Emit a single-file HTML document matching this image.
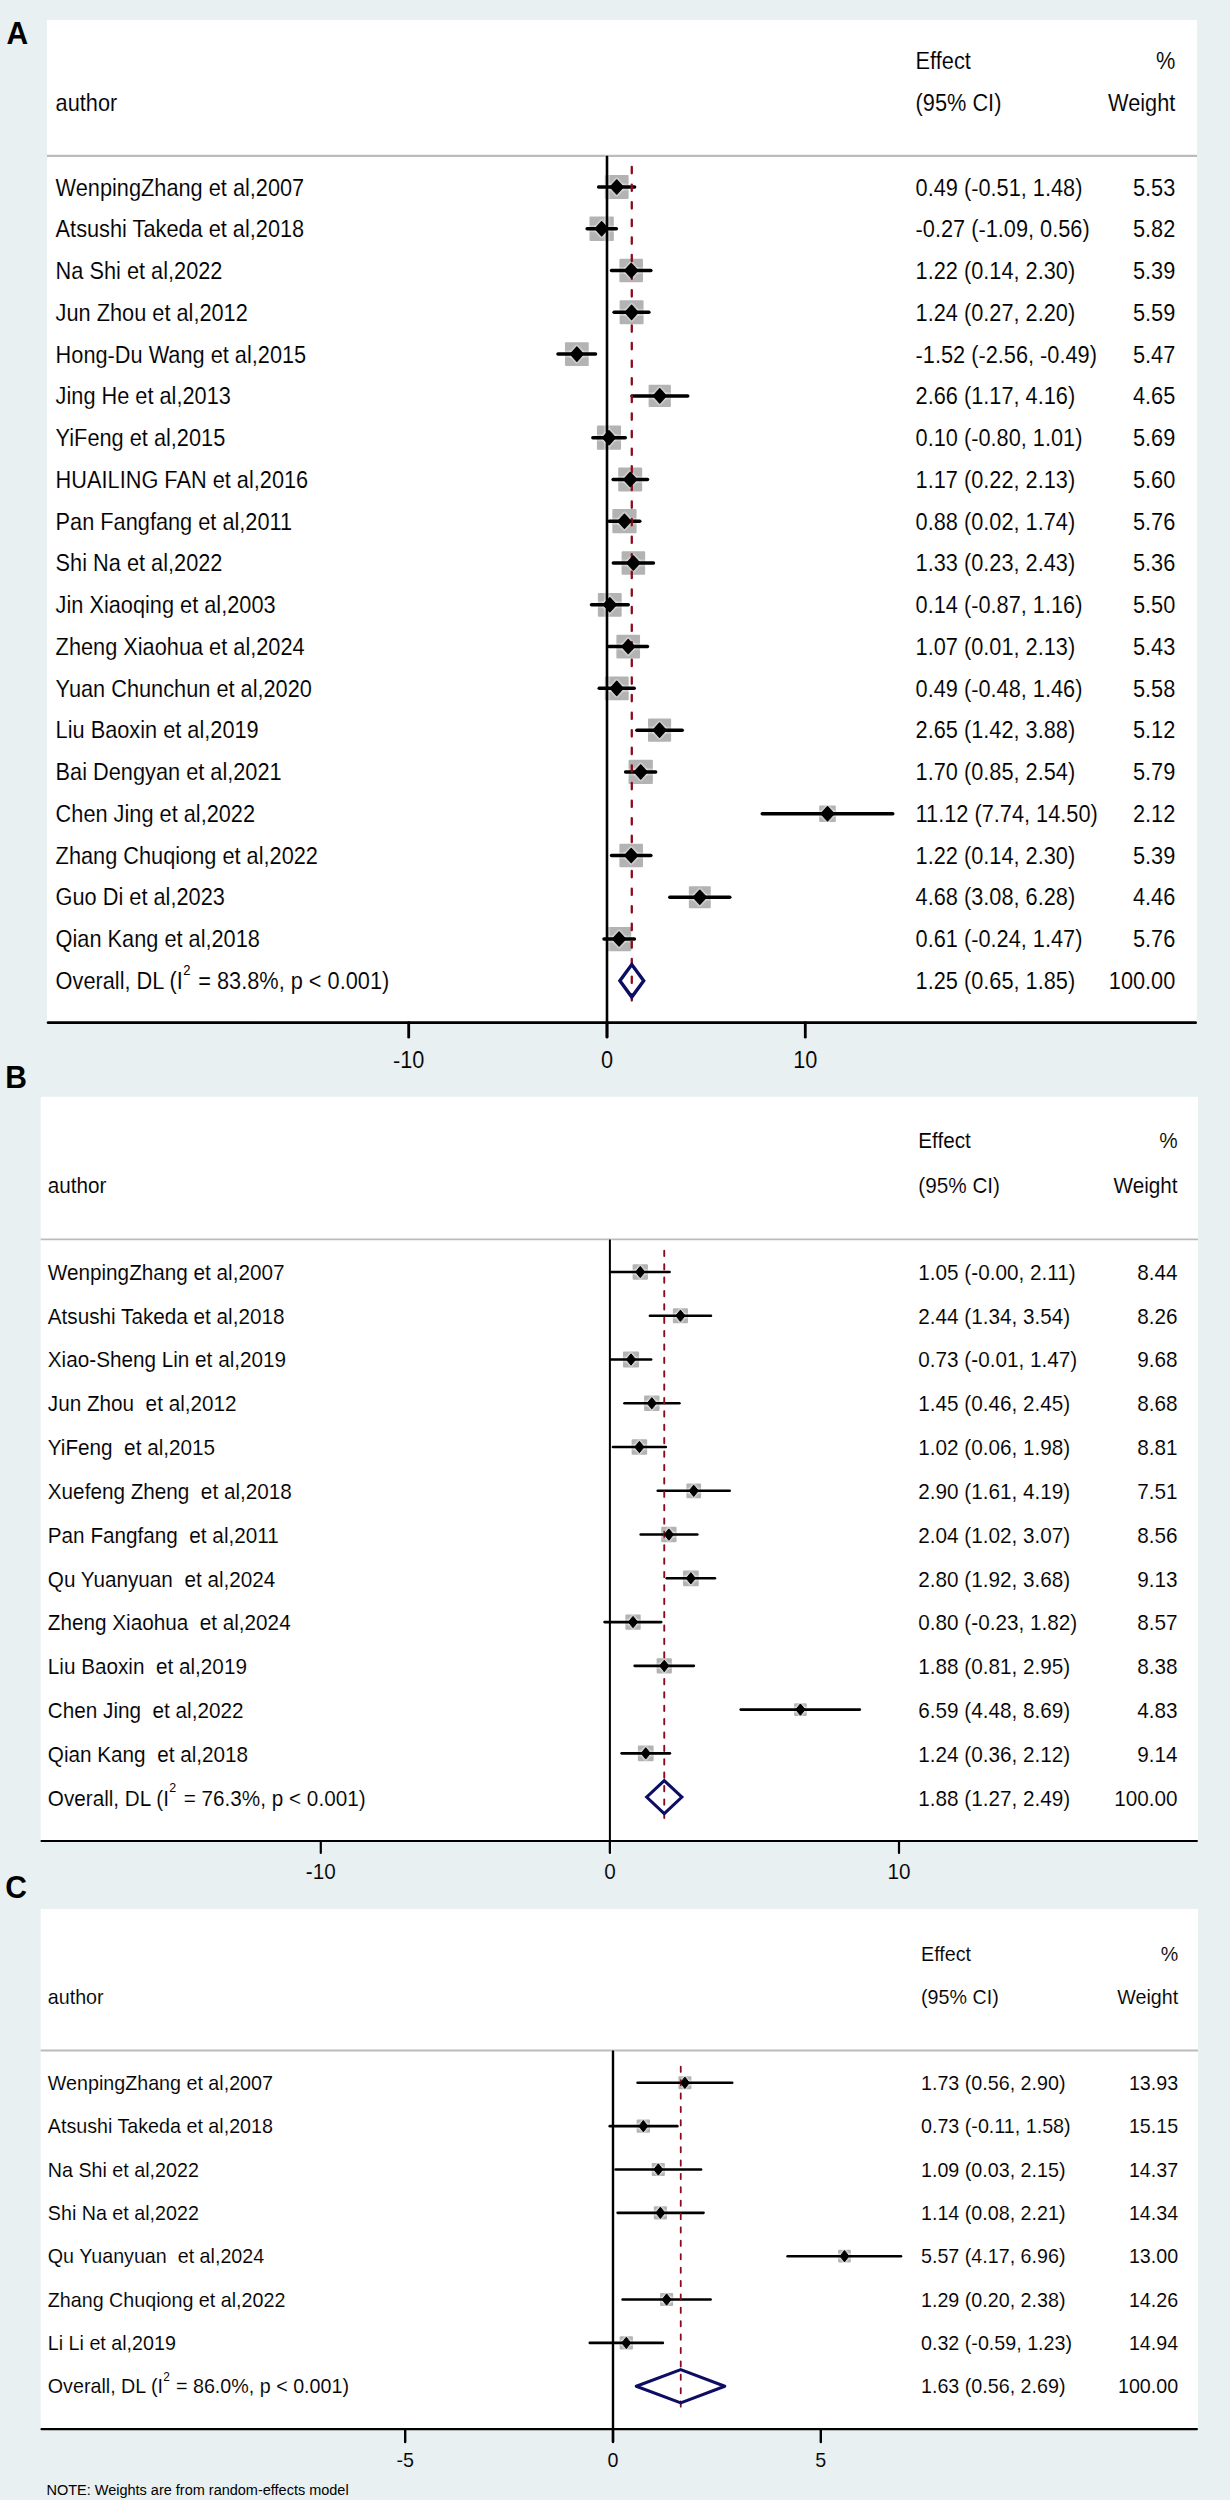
<!DOCTYPE html>
<html><head><meta charset="utf-8"><style>
html,body{margin:0;padding:0;background:#e8f0f2;}
body{width:1230px;height:2500px;overflow:hidden;font-family:"Liberation Sans",sans-serif;}
svg{display:block;}
text{white-space:pre;}
</style></head><body>
<svg width="1230" height="2500" viewBox="0 0 1230 2500" font-family="Liberation Sans, sans-serif" xml:space="preserve">
<rect width="1230" height="2500" fill="#e8f0f2"/>
<rect x="47" y="20" width="1150" height="1002.7" fill="#fff"/>
<line x1="47" y1="155.8" x2="1197" y2="155.8" stroke="#bbbbbb" stroke-width="2.2"/>
<g font-size="21.75" stroke="#fff" stroke-width="0.1">
<text transform="translate(915.6 69.3) scale(1 1.07)">Effect</text>
<text transform="translate(1175.3 69.3) scale(1 1.07)" text-anchor="end">%</text>
<text transform="translate(55.6 111.3) scale(1 1.07)">author</text>
<text transform="translate(915.6 111.3) scale(1 1.07)">(95% CI)</text>
<text transform="translate(1175.3 111.3) scale(1 1.07)" text-anchor="end">Weight</text>
<text transform="translate(55.6 195.5) scale(1 1.07)">WenpingZhang et al,2007</text>
<text transform="translate(915.6 195.5) scale(1 1.07)">0.49 (-0.51, 1.48)</text>
<text transform="translate(1175.3 195.5) scale(1 1.07)" text-anchor="end">5.53</text>
<text transform="translate(55.6 237.25) scale(1 1.07)">Atsushi Takeda et al,2018</text>
<text transform="translate(915.6 237.25) scale(1 1.07)">-0.27 (-1.09, 0.56)</text>
<text transform="translate(1175.3 237.25) scale(1 1.07)" text-anchor="end">5.82</text>
<text transform="translate(55.6 279) scale(1 1.07)">Na Shi et al,2022</text>
<text transform="translate(915.6 279) scale(1 1.07)">1.22 (0.14, 2.30)</text>
<text transform="translate(1175.3 279) scale(1 1.07)" text-anchor="end">5.39</text>
<text transform="translate(55.6 320.75) scale(1 1.07)">Jun Zhou et al,2012</text>
<text transform="translate(915.6 320.75) scale(1 1.07)">1.24 (0.27, 2.20)</text>
<text transform="translate(1175.3 320.75) scale(1 1.07)" text-anchor="end">5.59</text>
<text transform="translate(55.6 362.5) scale(1 1.07)">Hong-Du Wang et al,2015</text>
<text transform="translate(915.6 362.5) scale(1 1.07)">-1.52 (-2.56, -0.49)</text>
<text transform="translate(1175.3 362.5) scale(1 1.07)" text-anchor="end">5.47</text>
<text transform="translate(55.6 404.25) scale(1 1.07)">Jing He et al,2013</text>
<text transform="translate(915.6 404.25) scale(1 1.07)">2.66 (1.17, 4.16)</text>
<text transform="translate(1175.3 404.25) scale(1 1.07)" text-anchor="end">4.65</text>
<text transform="translate(55.6 446) scale(1 1.07)">YiFeng et al,2015</text>
<text transform="translate(915.6 446) scale(1 1.07)">0.10 (-0.80, 1.01)</text>
<text transform="translate(1175.3 446) scale(1 1.07)" text-anchor="end">5.69</text>
<text transform="translate(55.6 487.75) scale(1 1.07)">HUAILING FAN et al,2016</text>
<text transform="translate(915.6 487.75) scale(1 1.07)">1.17 (0.22, 2.13)</text>
<text transform="translate(1175.3 487.75) scale(1 1.07)" text-anchor="end">5.60</text>
<text transform="translate(55.6 529.5) scale(1 1.07)">Pan Fangfang et al,2011</text>
<text transform="translate(915.6 529.5) scale(1 1.07)">0.88 (0.02, 1.74)</text>
<text transform="translate(1175.3 529.5) scale(1 1.07)" text-anchor="end">5.76</text>
<text transform="translate(55.6 571.25) scale(1 1.07)">Shi Na et al,2022</text>
<text transform="translate(915.6 571.25) scale(1 1.07)">1.33 (0.23, 2.43)</text>
<text transform="translate(1175.3 571.25) scale(1 1.07)" text-anchor="end">5.36</text>
<text transform="translate(55.6 613) scale(1 1.07)">Jin Xiaoqing et al,2003</text>
<text transform="translate(915.6 613) scale(1 1.07)">0.14 (-0.87, 1.16)</text>
<text transform="translate(1175.3 613) scale(1 1.07)" text-anchor="end">5.50</text>
<text transform="translate(55.6 654.75) scale(1 1.07)">Zheng Xiaohua et al,2024</text>
<text transform="translate(915.6 654.75) scale(1 1.07)">1.07 (0.01, 2.13)</text>
<text transform="translate(1175.3 654.75) scale(1 1.07)" text-anchor="end">5.43</text>
<text transform="translate(55.6 696.5) scale(1 1.07)">Yuan Chunchun et al,2020</text>
<text transform="translate(915.6 696.5) scale(1 1.07)">0.49 (-0.48, 1.46)</text>
<text transform="translate(1175.3 696.5) scale(1 1.07)" text-anchor="end">5.58</text>
<text transform="translate(55.6 738.25) scale(1 1.07)">Liu Baoxin et al,2019</text>
<text transform="translate(915.6 738.25) scale(1 1.07)">2.65 (1.42, 3.88)</text>
<text transform="translate(1175.3 738.25) scale(1 1.07)" text-anchor="end">5.12</text>
<text transform="translate(55.6 780) scale(1 1.07)">Bai Dengyan et al,2021</text>
<text transform="translate(915.6 780) scale(1 1.07)">1.70 (0.85, 2.54)</text>
<text transform="translate(1175.3 780) scale(1 1.07)" text-anchor="end">5.79</text>
<text transform="translate(55.6 821.75) scale(1 1.07)">Chen Jing et al,2022</text>
<text transform="translate(915.6 821.75) scale(1 1.07)">11.12 (7.74, 14.50)</text>
<text transform="translate(1175.3 821.75) scale(1 1.07)" text-anchor="end">2.12</text>
<text transform="translate(55.6 863.5) scale(1 1.07)">Zhang Chuqiong et al,2022</text>
<text transform="translate(915.6 863.5) scale(1 1.07)">1.22 (0.14, 2.30)</text>
<text transform="translate(1175.3 863.5) scale(1 1.07)" text-anchor="end">5.39</text>
<text transform="translate(55.6 905.25) scale(1 1.07)">Guo Di et al,2023</text>
<text transform="translate(915.6 905.25) scale(1 1.07)">4.68 (3.08, 6.28)</text>
<text transform="translate(1175.3 905.25) scale(1 1.07)" text-anchor="end">4.46</text>
<text transform="translate(55.6 947) scale(1 1.07)">Qian Kang et al,2018</text>
<text transform="translate(915.6 947) scale(1 1.07)">0.61 (-0.24, 1.47)</text>
<text transform="translate(1175.3 947) scale(1 1.07)" text-anchor="end">5.76</text>
<text transform="translate(55.6 988.75) scale(1 1.07)">Overall, DL (I<tspan font-size="13.05" stroke-width="0" dx="0.3" dy="-13.27">2</tspan><tspan dx="1.8" dy="13.27"> = 83.8%, p &lt; 0.001)</tspan></text>
<text transform="translate(915.6 988.75) scale(1 1.07)">1.25 (0.65, 1.85)</text>
<text transform="translate(1175.3 988.75) scale(1 1.07)" text-anchor="end">100.00</text>
</g>
<g font-size="21.75" stroke="#e8f0f2" stroke-width="0.1">
<text transform="translate(408.7 1067.7) scale(1 1.07)" text-anchor="middle">-10</text>
<text transform="translate(607 1067.7) scale(1 1.07)" text-anchor="middle">0</text>
<text transform="translate(805.3 1067.7) scale(1 1.07)" text-anchor="middle">10</text>
</g>
<rect x="604.79" y="175.08" width="23.85" height="23.85" rx="1" fill="#b3b3b3"/>
<rect x="589.48" y="216.61" width="24.34" height="24.34" rx="1" fill="#b3b3b3"/>
<rect x="619.39" y="258.76" width="23.61" height="23.61" rx="1" fill="#b3b3b3"/>
<rect x="619.61" y="300.36" width="23.95" height="23.95" rx="1" fill="#b3b3b3"/>
<rect x="564.99" y="342.25" width="23.74" height="23.74" rx="1" fill="#b3b3b3"/>
<rect x="648.61" y="384.77" width="22.27" height="22.27" rx="1" fill="#b3b3b3"/>
<rect x="596.92" y="425.62" width="24.12" height="24.12" rx="1" fill="#b3b3b3"/>
<rect x="618.22" y="467.48" width="23.97" height="23.97" rx="1" fill="#b3b3b3"/>
<rect x="612.33" y="509.12" width="24.24" height="24.24" rx="1" fill="#b3b3b3"/>
<rect x="621.6" y="551.24" width="23.55" height="23.55" rx="1" fill="#b3b3b3"/>
<rect x="597.88" y="592.9" width="23.8" height="23.8" rx="1" fill="#b3b3b3"/>
<rect x="616.38" y="634.74" width="23.67" height="23.67" rx="1" fill="#b3b3b3"/>
<rect x="604.75" y="676.39" width="23.93" height="23.93" rx="1" fill="#b3b3b3"/>
<rect x="647.99" y="718.58" width="23.13" height="23.13" rx="1" fill="#b3b3b3"/>
<rect x="628.57" y="759.77" width="24.29" height="24.29" rx="1" fill="#b3b3b3"/>
<rect x="819.21" y="805.4" width="16.59" height="16.59" rx="1" fill="#b3b3b3"/>
<rect x="619.39" y="843.68" width="23.61" height="23.61" rx="1" fill="#b3b3b3"/>
<rect x="688.85" y="886.31" width="21.91" height="21.91" rx="1" fill="#b3b3b3"/>
<rect x="606.98" y="926.92" width="24.24" height="24.24" rx="1" fill="#b3b3b3"/>
<g stroke="#fff" stroke-opacity="0.3" fill="none" stroke-linejoin="round" stroke-linecap="round">
<path d="M607 157.8V1037.2" stroke-width="6.2"/>
<path d="M604.79 187H628.64" stroke-width="7.1"/>
<path d="M616.72 179.9L623.22 187L616.72 194.1L610.22 187Z" stroke-width="4.9"/>
<path d="M589.48 228.78H613.82" stroke-width="7.1"/>
<path d="M601.65 221.68L608.15 228.78L601.65 235.88L595.15 228.78Z" stroke-width="4.9"/>
<path d="M619.39 270.56H643" stroke-width="7.1"/>
<path d="M631.19 263.46L637.69 270.56L631.19 277.66L624.69 270.56Z" stroke-width="4.9"/>
<path d="M619.61 312.34H643.56" stroke-width="7.1"/>
<path d="M631.59 305.24L638.09 312.34L631.59 319.44L625.09 312.34Z" stroke-width="4.9"/>
<path d="M564.99 354.12H588.73" stroke-width="7.1"/>
<path d="M576.86 347.02L583.36 354.12L576.86 361.22L570.36 354.12Z" stroke-width="4.9"/>
<path d="M648.61 395.9H670.88" stroke-width="7.1"/>
<path d="M659.75 388.8L666.25 395.9L659.75 403L653.25 395.9Z" stroke-width="4.9"/>
<path d="M596.92 437.68H621.04" stroke-width="7.1"/>
<path d="M608.98 430.58L615.48 437.68L608.98 444.78L602.48 437.68Z" stroke-width="4.9"/>
<path d="M618.22 479.46H642.19" stroke-width="7.1"/>
<path d="M630.2 472.36L636.7 479.46L630.2 486.56L623.7 479.46Z" stroke-width="4.9"/>
<path d="M612.33 521.24H636.57" stroke-width="7.1"/>
<path d="M624.45 514.14L630.95 521.24L624.45 528.34L617.95 521.24Z" stroke-width="4.9"/>
<path d="M621.6 563.02H645.15" stroke-width="7.1"/>
<path d="M633.37 555.92L639.87 563.02L633.37 570.12L626.87 563.02Z" stroke-width="4.9"/>
<path d="M597.88 604.8H621.67" stroke-width="7.1"/>
<path d="M609.78 597.7L616.28 604.8L609.78 611.9L603.28 604.8Z" stroke-width="4.9"/>
<path d="M616.38 646.58H640.06" stroke-width="7.1"/>
<path d="M628.22 639.48L634.72 646.58L628.22 653.68L621.72 646.58Z" stroke-width="4.9"/>
<path d="M604.75 688.36H628.68" stroke-width="7.1"/>
<path d="M616.72 681.26L623.22 688.36L616.72 695.46L610.22 688.36Z" stroke-width="4.9"/>
<path d="M647.99 730.14H671.11" stroke-width="7.1"/>
<path d="M659.55 723.04L666.05 730.14L659.55 737.24L653.05 730.14Z" stroke-width="4.9"/>
<path d="M628.57 771.92H652.86" stroke-width="7.1"/>
<path d="M640.71 764.82L647.21 771.92L640.71 779.02L634.21 771.92Z" stroke-width="4.9"/>
<path d="M819.21 813.7H835.81" stroke-width="7.1"/>
<path d="M827.51 806.6L834.01 813.7L827.51 820.8L821.01 813.7Z" stroke-width="4.9"/>
<path d="M619.39 855.48H643" stroke-width="7.1"/>
<path d="M631.19 848.38L637.69 855.48L631.19 862.58L624.69 855.48Z" stroke-width="4.9"/>
<path d="M688.85 897.26H710.76" stroke-width="7.1"/>
<path d="M699.8 890.16L706.3 897.26L699.8 904.36L693.3 897.26Z" stroke-width="4.9"/>
<path d="M606.98 939.04H631.22" stroke-width="7.1"/>
<path d="M619.1 931.94L625.6 939.04L619.1 946.14L612.6 939.04Z" stroke-width="4.9"/>
</g>
<line x1="607" y1="155.8" x2="607" y2="1037.2" stroke="#000" stroke-width="2.6"/>
<line x1="598.64" y1="187" x2="634.6" y2="187" stroke="#000" stroke-width="3.5" stroke-linecap="round"/>
<line x1="587.14" y1="228.78" x2="616.35" y2="228.78" stroke="#000" stroke-width="3.5" stroke-linecap="round"/>
<line x1="611.53" y1="270.56" x2="650.86" y2="270.56" stroke="#000" stroke-width="3.5" stroke-linecap="round"/>
<line x1="614.1" y1="312.34" x2="648.88" y2="312.34" stroke="#000" stroke-width="3.5" stroke-linecap="round"/>
<line x1="557.99" y1="354.12" x2="595.53" y2="354.12" stroke="#000" stroke-width="3.5" stroke-linecap="round"/>
<line x1="631.95" y1="395.9" x2="687.74" y2="395.9" stroke="#000" stroke-width="3.5" stroke-linecap="round"/>
<line x1="592.89" y1="437.68" x2="625.28" y2="437.68" stroke="#000" stroke-width="3.5" stroke-linecap="round"/>
<line x1="613.11" y1="479.46" x2="647.49" y2="479.46" stroke="#000" stroke-width="3.5" stroke-linecap="round"/>
<line x1="609.15" y1="521.24" x2="639.75" y2="521.24" stroke="#000" stroke-width="3.5" stroke-linecap="round"/>
<line x1="613.31" y1="563.02" x2="653.44" y2="563.02" stroke="#000" stroke-width="3.5" stroke-linecap="round"/>
<line x1="591.5" y1="604.8" x2="628.25" y2="604.8" stroke="#000" stroke-width="3.5" stroke-linecap="round"/>
<line x1="608.95" y1="646.58" x2="647.49" y2="646.58" stroke="#000" stroke-width="3.5" stroke-linecap="round"/>
<line x1="599.23" y1="688.36" x2="634.2" y2="688.36" stroke="#000" stroke-width="3.5" stroke-linecap="round"/>
<line x1="636.91" y1="730.14" x2="682.19" y2="730.14" stroke="#000" stroke-width="3.5" stroke-linecap="round"/>
<line x1="625.61" y1="771.92" x2="655.62" y2="771.92" stroke="#000" stroke-width="3.5" stroke-linecap="round"/>
<line x1="762.23" y1="813.7" x2="892.78" y2="813.7" stroke="#000" stroke-width="3.5" stroke-linecap="round"/>
<line x1="611.53" y1="855.48" x2="650.86" y2="855.48" stroke="#000" stroke-width="3.5" stroke-linecap="round"/>
<line x1="669.83" y1="897.26" x2="729.78" y2="897.26" stroke="#000" stroke-width="3.5" stroke-linecap="round"/>
<line x1="603.99" y1="939.04" x2="634.4" y2="939.04" stroke="#000" stroke-width="3.5" stroke-linecap="round"/>
<line x1="631.79" y1="166.95" x2="631.79" y2="1001.6" stroke="#8a0c1c" stroke-width="2.3" stroke-dasharray="6.4 11.2" stroke-linecap="round"/>
<path d="M616.72 179.9L623.22 187L616.72 194.1L610.22 187Z" stroke="#000" stroke-width="1.3" stroke-linejoin="round"/>
<path d="M601.65 221.68L608.15 228.78L601.65 235.88L595.15 228.78Z" stroke="#000" stroke-width="1.3" stroke-linejoin="round"/>
<path d="M631.19 263.46L637.69 270.56L631.19 277.66L624.69 270.56Z" stroke="#000" stroke-width="1.3" stroke-linejoin="round"/>
<path d="M631.59 305.24L638.09 312.34L631.59 319.44L625.09 312.34Z" stroke="#000" stroke-width="1.3" stroke-linejoin="round"/>
<path d="M576.86 347.02L583.36 354.12L576.86 361.22L570.36 354.12Z" stroke="#000" stroke-width="1.3" stroke-linejoin="round"/>
<path d="M659.75 388.8L666.25 395.9L659.75 403L653.25 395.9Z" stroke="#000" stroke-width="1.3" stroke-linejoin="round"/>
<path d="M608.98 430.58L615.48 437.68L608.98 444.78L602.48 437.68Z" stroke="#000" stroke-width="1.3" stroke-linejoin="round"/>
<path d="M630.2 472.36L636.7 479.46L630.2 486.56L623.7 479.46Z" stroke="#000" stroke-width="1.3" stroke-linejoin="round"/>
<path d="M624.45 514.14L630.95 521.24L624.45 528.34L617.95 521.24Z" stroke="#000" stroke-width="1.3" stroke-linejoin="round"/>
<path d="M633.37 555.92L639.87 563.02L633.37 570.12L626.87 563.02Z" stroke="#000" stroke-width="1.3" stroke-linejoin="round"/>
<path d="M609.78 597.7L616.28 604.8L609.78 611.9L603.28 604.8Z" stroke="#000" stroke-width="1.3" stroke-linejoin="round"/>
<path d="M628.22 639.48L634.72 646.58L628.22 653.68L621.72 646.58Z" stroke="#000" stroke-width="1.3" stroke-linejoin="round"/>
<path d="M616.72 681.26L623.22 688.36L616.72 695.46L610.22 688.36Z" stroke="#000" stroke-width="1.3" stroke-linejoin="round"/>
<path d="M659.55 723.04L666.05 730.14L659.55 737.24L653.05 730.14Z" stroke="#000" stroke-width="1.3" stroke-linejoin="round"/>
<path d="M640.71 764.82L647.21 771.92L640.71 779.02L634.21 771.92Z" stroke="#000" stroke-width="1.3" stroke-linejoin="round"/>
<path d="M827.51 806.6L834.01 813.7L827.51 820.8L821.01 813.7Z" stroke="#000" stroke-width="1.3" stroke-linejoin="round"/>
<path d="M631.19 848.38L637.69 855.48L631.19 862.58L624.69 855.48Z" stroke="#000" stroke-width="1.3" stroke-linejoin="round"/>
<path d="M699.8 890.16L706.3 897.26L699.8 904.36L693.3 897.26Z" stroke="#000" stroke-width="1.3" stroke-linejoin="round"/>
<path d="M619.1 931.94L625.6 939.04L619.1 946.14L612.6 939.04Z" stroke="#000" stroke-width="1.3" stroke-linejoin="round"/>
<path d="M619.89 980.82L631.79 964.52L643.69 980.82L631.79 997.12Z" fill="none" stroke="#0d0d63" stroke-width="3.4" stroke-linejoin="miter"/>
<line x1="48.1" y1="1022.7" x2="1195.6" y2="1022.7" stroke="#000" stroke-width="2.8" stroke-linecap="round"/>
<line x1="408.7" y1="1022.7" x2="408.7" y2="1037.2" stroke="#000" stroke-width="2.8" stroke-linecap="round"/>
<line x1="607" y1="1022.7" x2="607" y2="1037.2" stroke="#000" stroke-width="2.8" stroke-linecap="round"/>
<line x1="805.3" y1="1022.7" x2="805.3" y2="1037.2" stroke="#000" stroke-width="2.8" stroke-linecap="round"/>
<rect x="40.7" y="1096.8" width="1157.3" height="744.2" fill="#fff"/>
<line x1="40.7" y1="1239.4" x2="1198" y2="1239.4" stroke="#bbbbbb" stroke-width="1.8"/>
<g font-size="20.72" stroke="#fff" stroke-width="0.1">
<text transform="translate(918.3 1148.4) scale(1 1.07)">Effect</text>
<text transform="translate(1177.6 1148.4) scale(1 1.07)" text-anchor="end">%</text>
<text transform="translate(47.8 1192.8) scale(1 1.07)">author</text>
<text transform="translate(918.3 1192.8) scale(1 1.07)">(95% CI)</text>
<text transform="translate(1177.6 1192.8) scale(1 1.07)" text-anchor="end">Weight</text>
<text transform="translate(47.8 1279.8) scale(1 1.07)">WenpingZhang et al,2007</text>
<text transform="translate(918.3 1279.8) scale(1 1.07)">1.05 (-0.00, 2.11)</text>
<text transform="translate(1177.6 1279.8) scale(1 1.07)" text-anchor="end">8.44</text>
<text transform="translate(47.8 1323.63) scale(1 1.07)">Atsushi Takeda et al,2018</text>
<text transform="translate(918.3 1323.63) scale(1 1.07)">2.44 (1.34, 3.54)</text>
<text transform="translate(1177.6 1323.63) scale(1 1.07)" text-anchor="end">8.26</text>
<text transform="translate(47.8 1367.46) scale(1 1.07)">Xiao-Sheng Lin et al,2019</text>
<text transform="translate(918.3 1367.46) scale(1 1.07)">0.73 (-0.01, 1.47)</text>
<text transform="translate(1177.6 1367.46) scale(1 1.07)" text-anchor="end">9.68</text>
<text transform="translate(47.8 1411.29) scale(1 1.07)">Jun Zhou  et al,2012</text>
<text transform="translate(918.3 1411.29) scale(1 1.07)">1.45 (0.46, 2.45)</text>
<text transform="translate(1177.6 1411.29) scale(1 1.07)" text-anchor="end">8.68</text>
<text transform="translate(47.8 1455.12) scale(1 1.07)">YiFeng  et al,2015</text>
<text transform="translate(918.3 1455.12) scale(1 1.07)">1.02 (0.06, 1.98)</text>
<text transform="translate(1177.6 1455.12) scale(1 1.07)" text-anchor="end">8.81</text>
<text transform="translate(47.8 1498.95) scale(1 1.07)">Xuefeng Zheng  et al,2018</text>
<text transform="translate(918.3 1498.95) scale(1 1.07)">2.90 (1.61, 4.19)</text>
<text transform="translate(1177.6 1498.95) scale(1 1.07)" text-anchor="end">7.51</text>
<text transform="translate(47.8 1542.78) scale(1 1.07)">Pan Fangfang  et al,2011</text>
<text transform="translate(918.3 1542.78) scale(1 1.07)">2.04 (1.02, 3.07)</text>
<text transform="translate(1177.6 1542.78) scale(1 1.07)" text-anchor="end">8.56</text>
<text transform="translate(47.8 1586.61) scale(1 1.07)">Qu Yuanyuan  et al,2024</text>
<text transform="translate(918.3 1586.61) scale(1 1.07)">2.80 (1.92, 3.68)</text>
<text transform="translate(1177.6 1586.61) scale(1 1.07)" text-anchor="end">9.13</text>
<text transform="translate(47.8 1630.44) scale(1 1.07)">Zheng Xiaohua  et al,2024</text>
<text transform="translate(918.3 1630.44) scale(1 1.07)">0.80 (-0.23, 1.82)</text>
<text transform="translate(1177.6 1630.44) scale(1 1.07)" text-anchor="end">8.57</text>
<text transform="translate(47.8 1674.27) scale(1 1.07)">Liu Baoxin  et al,2019</text>
<text transform="translate(918.3 1674.27) scale(1 1.07)">1.88 (0.81, 2.95)</text>
<text transform="translate(1177.6 1674.27) scale(1 1.07)" text-anchor="end">8.38</text>
<text transform="translate(47.8 1718.1) scale(1 1.07)">Chen Jing  et al,2022</text>
<text transform="translate(918.3 1718.1) scale(1 1.07)">6.59 (4.48, 8.69)</text>
<text transform="translate(1177.6 1718.1) scale(1 1.07)" text-anchor="end">4.83</text>
<text transform="translate(47.8 1761.93) scale(1 1.07)">Qian Kang  et al,2018</text>
<text transform="translate(918.3 1761.93) scale(1 1.07)">1.24 (0.36, 2.12)</text>
<text transform="translate(1177.6 1761.93) scale(1 1.07)" text-anchor="end">9.14</text>
<text transform="translate(47.8 1805.76) scale(1 1.07)">Overall, DL (I<tspan font-size="12.43" stroke-width="0" dx="0.3" dy="-12.85">2</tspan><tspan dx="1.8" dy="12.85"> = 76.3%, p &lt; 0.001)</tspan></text>
<text transform="translate(918.3 1805.76) scale(1 1.07)">1.88 (1.27, 2.49)</text>
<text transform="translate(1177.6 1805.76) scale(1 1.07)" text-anchor="end">100.00</text>
</g>
<g font-size="20.72" stroke="#e8f0f2" stroke-width="0.1">
<text transform="translate(320.8 1879.2) scale(1 1.07)" text-anchor="middle">-10</text>
<text transform="translate(609.9 1879.2) scale(1 1.07)" text-anchor="middle">0</text>
<text transform="translate(899 1879.2) scale(1 1.07)" text-anchor="middle">10</text>
</g>
<rect x="632.61" y="1264.35" width="15.3" height="15.3" rx="1" fill="#b3b3b3"/>
<rect x="672.85" y="1308.17" width="15.18" height="15.18" rx="1" fill="#b3b3b3"/>
<rect x="622.96" y="1351.48" width="16.09" height="16.09" rx="1" fill="#b3b3b3"/>
<rect x="644.09" y="1395.55" width="15.45" height="15.45" rx="1" fill="#b3b3b3"/>
<rect x="631.62" y="1439.27" width="15.54" height="15.54" rx="1" fill="#b3b3b3"/>
<rect x="686.4" y="1483.47" width="14.67" height="14.67" rx="1" fill="#b3b3b3"/>
<rect x="661.19" y="1526.87" width="15.38" height="15.38" rx="1" fill="#b3b3b3"/>
<rect x="682.98" y="1570.45" width="15.74" height="15.74" rx="1" fill="#b3b3b3"/>
<rect x="625.34" y="1614.39" width="15.38" height="15.38" rx="1" fill="#b3b3b3"/>
<rect x="656.62" y="1658.21" width="15.26" height="15.26" rx="1" fill="#b3b3b3"/>
<rect x="794.12" y="1703.3" width="12.6" height="12.6" rx="1" fill="#b3b3b3"/>
<rect x="637.87" y="1745.49" width="15.75" height="15.75" rx="1" fill="#b3b3b3"/>
<g stroke="#fff" stroke-opacity="0.3" fill="none" stroke-linejoin="round" stroke-linecap="round">
<path d="M609.9 1241.4V1853" stroke-width="5.6"/>
<path d="M632.61 1272H647.9" stroke-width="6.2"/>
<path d="M640.26 1266.4L644.86 1272L640.26 1277.6L635.66 1272Z" stroke-width="4.6"/>
<path d="M672.85 1315.76H688.03" stroke-width="6.2"/>
<path d="M680.44 1310.16L685.04 1315.76L680.44 1321.36L675.84 1315.76Z" stroke-width="4.6"/>
<path d="M622.96 1359.52H639.05" stroke-width="6.2"/>
<path d="M631 1353.92L635.6 1359.52L631 1365.12L626.4 1359.52Z" stroke-width="4.6"/>
<path d="M644.09 1403.28H659.55" stroke-width="6.2"/>
<path d="M651.82 1397.68L656.42 1403.28L651.82 1408.88L647.22 1403.28Z" stroke-width="4.6"/>
<path d="M631.62 1447.04H647.16" stroke-width="6.2"/>
<path d="M639.39 1441.44L643.99 1447.04L639.39 1452.64L634.79 1447.04Z" stroke-width="4.6"/>
<path d="M686.4 1490.8H701.07" stroke-width="6.2"/>
<path d="M693.74 1485.2L698.34 1490.8L693.74 1496.4L689.14 1490.8Z" stroke-width="4.6"/>
<path d="M661.19 1534.56H676.56" stroke-width="6.2"/>
<path d="M668.88 1528.96L673.48 1534.56L668.88 1540.16L664.28 1534.56Z" stroke-width="4.6"/>
<path d="M682.98 1578.32H698.72" stroke-width="6.2"/>
<path d="M690.85 1572.72L695.45 1578.32L690.85 1583.92L686.25 1578.32Z" stroke-width="4.6"/>
<path d="M625.34 1622.08H640.72" stroke-width="6.2"/>
<path d="M633.03 1616.48L637.63 1622.08L633.03 1627.68L628.43 1622.08Z" stroke-width="4.6"/>
<path d="M656.62 1665.84H671.88" stroke-width="6.2"/>
<path d="M664.25 1660.24L668.85 1665.84L664.25 1671.44L659.65 1665.84Z" stroke-width="4.6"/>
<path d="M794.12 1709.6H806.71" stroke-width="6.2"/>
<path d="M800.42 1704L805.02 1709.6L800.42 1715.2L795.82 1709.6Z" stroke-width="4.6"/>
<path d="M637.87 1753.36H653.62" stroke-width="6.2"/>
<path d="M645.75 1747.76L650.35 1753.36L645.75 1758.96L641.15 1753.36Z" stroke-width="4.6"/>
</g>
<line x1="609.9" y1="1239.4" x2="609.9" y2="1853" stroke="#000" stroke-width="2.0"/>
<line x1="611.2" y1="1272" x2="669.6" y2="1272" stroke="#000" stroke-width="2.6" stroke-linecap="round"/>
<line x1="649.94" y1="1315.76" x2="710.94" y2="1315.76" stroke="#000" stroke-width="2.6" stroke-linecap="round"/>
<line x1="610.91" y1="1359.52" x2="651.1" y2="1359.52" stroke="#000" stroke-width="2.6" stroke-linecap="round"/>
<line x1="624.5" y1="1403.28" x2="679.43" y2="1403.28" stroke="#000" stroke-width="2.6" stroke-linecap="round"/>
<line x1="612.93" y1="1447.04" x2="665.84" y2="1447.04" stroke="#000" stroke-width="2.6" stroke-linecap="round"/>
<line x1="657.75" y1="1490.8" x2="729.73" y2="1490.8" stroke="#000" stroke-width="2.6" stroke-linecap="round"/>
<line x1="640.69" y1="1534.56" x2="697.35" y2="1534.56" stroke="#000" stroke-width="2.6" stroke-linecap="round"/>
<line x1="666.71" y1="1578.32" x2="714.99" y2="1578.32" stroke="#000" stroke-width="2.6" stroke-linecap="round"/>
<line x1="604.55" y1="1622.08" x2="661.22" y2="1622.08" stroke="#000" stroke-width="2.6" stroke-linecap="round"/>
<line x1="634.62" y1="1665.84" x2="693.88" y2="1665.84" stroke="#000" stroke-width="2.6" stroke-linecap="round"/>
<line x1="740.72" y1="1709.6" x2="859.83" y2="1709.6" stroke="#000" stroke-width="2.6" stroke-linecap="round"/>
<line x1="621.61" y1="1753.36" x2="669.89" y2="1753.36" stroke="#000" stroke-width="2.6" stroke-linecap="round"/>
<line x1="664.25" y1="1250.75" x2="664.25" y2="1819" stroke="#8a0c1c" stroke-width="1.9" stroke-dasharray="5.3 8.08" stroke-linecap="round"/>
<path d="M640.26 1266.4L644.86 1272L640.26 1277.6L635.66 1272Z" stroke="#000" stroke-width="1.0" stroke-linejoin="round"/>
<path d="M680.44 1310.16L685.04 1315.76L680.44 1321.36L675.84 1315.76Z" stroke="#000" stroke-width="1.0" stroke-linejoin="round"/>
<path d="M631 1353.92L635.6 1359.52L631 1365.12L626.4 1359.52Z" stroke="#000" stroke-width="1.0" stroke-linejoin="round"/>
<path d="M651.82 1397.68L656.42 1403.28L651.82 1408.88L647.22 1403.28Z" stroke="#000" stroke-width="1.0" stroke-linejoin="round"/>
<path d="M639.39 1441.44L643.99 1447.04L639.39 1452.64L634.79 1447.04Z" stroke="#000" stroke-width="1.0" stroke-linejoin="round"/>
<path d="M693.74 1485.2L698.34 1490.8L693.74 1496.4L689.14 1490.8Z" stroke="#000" stroke-width="1.0" stroke-linejoin="round"/>
<path d="M668.88 1528.96L673.48 1534.56L668.88 1540.16L664.28 1534.56Z" stroke="#000" stroke-width="1.0" stroke-linejoin="round"/>
<path d="M690.85 1572.72L695.45 1578.32L690.85 1583.92L686.25 1578.32Z" stroke="#000" stroke-width="1.0" stroke-linejoin="round"/>
<path d="M633.03 1616.48L637.63 1622.08L633.03 1627.68L628.43 1622.08Z" stroke="#000" stroke-width="1.0" stroke-linejoin="round"/>
<path d="M664.25 1660.24L668.85 1665.84L664.25 1671.44L659.65 1665.84Z" stroke="#000" stroke-width="1.0" stroke-linejoin="round"/>
<path d="M800.42 1704L805.02 1709.6L800.42 1715.2L795.82 1709.6Z" stroke="#000" stroke-width="1.0" stroke-linejoin="round"/>
<path d="M645.75 1747.76L650.35 1753.36L645.75 1758.96L641.15 1753.36Z" stroke="#000" stroke-width="1.0" stroke-linejoin="round"/>
<path d="M646.62 1797.12L664.25 1780.62L681.89 1797.12L664.25 1813.62Z" fill="none" stroke="#0d0d63" stroke-width="3.0" stroke-linejoin="miter"/>
<line x1="41.5" y1="1841" x2="1196.9" y2="1841" stroke="#000" stroke-width="2.2" stroke-linecap="round"/>
<line x1="320.8" y1="1841" x2="320.8" y2="1853" stroke="#000" stroke-width="2.2" stroke-linecap="round"/>
<line x1="609.9" y1="1841" x2="609.9" y2="1853" stroke="#000" stroke-width="2.2" stroke-linecap="round"/>
<line x1="899" y1="1841" x2="899" y2="1853" stroke="#000" stroke-width="2.2" stroke-linecap="round"/>
<rect x="40.7" y="1909" width="1157.3" height="520.1" fill="#fff"/>
<line x1="40.7" y1="2050.5" x2="1198" y2="2050.5" stroke="#bbbbbb" stroke-width="1.8"/>
<g font-size="19.7" stroke="#fff" stroke-width="0.1">
<text transform="translate(921 1960.8) scale(1 1.07)">Effect</text>
<text transform="translate(1178.2 1960.8) scale(1 1.07)" text-anchor="end">%</text>
<text transform="translate(47.8 2004) scale(1 1.07)">author</text>
<text transform="translate(921 2004) scale(1 1.07)">(95% CI)</text>
<text transform="translate(1178.2 2004) scale(1 1.07)" text-anchor="end">Weight</text>
<text transform="translate(47.8 2090.1) scale(1 1.07)">WenpingZhang et al,2007</text>
<text transform="translate(921 2090.1) scale(1 1.07)">1.73 (0.56, 2.90)</text>
<text transform="translate(1178.2 2090.1) scale(1 1.07)" text-anchor="end">13.93</text>
<text transform="translate(47.8 2133.4) scale(1 1.07)">Atsushi Takeda et al,2018</text>
<text transform="translate(921 2133.4) scale(1 1.07)">0.73 (-0.11, 1.58)</text>
<text transform="translate(1178.2 2133.4) scale(1 1.07)" text-anchor="end">15.15</text>
<text transform="translate(47.8 2176.7) scale(1 1.07)">Na Shi et al,2022</text>
<text transform="translate(921 2176.7) scale(1 1.07)">1.09 (0.03, 2.15)</text>
<text transform="translate(1178.2 2176.7) scale(1 1.07)" text-anchor="end">14.37</text>
<text transform="translate(47.8 2220) scale(1 1.07)">Shi Na et al,2022</text>
<text transform="translate(921 2220) scale(1 1.07)">1.14 (0.08, 2.21)</text>
<text transform="translate(1178.2 2220) scale(1 1.07)" text-anchor="end">14.34</text>
<text transform="translate(47.8 2263.3) scale(1 1.07)">Qu Yuanyuan  et al,2024</text>
<text transform="translate(921 2263.3) scale(1 1.07)">5.57 (4.17, 6.96)</text>
<text transform="translate(1178.2 2263.3) scale(1 1.07)" text-anchor="end">13.00</text>
<text transform="translate(47.8 2306.6) scale(1 1.07)">Zhang Chuqiong et al,2022</text>
<text transform="translate(921 2306.6) scale(1 1.07)">1.29 (0.20, 2.38)</text>
<text transform="translate(1178.2 2306.6) scale(1 1.07)" text-anchor="end">14.26</text>
<text transform="translate(47.8 2349.9) scale(1 1.07)">Li Li et al,2019</text>
<text transform="translate(921 2349.9) scale(1 1.07)">0.32 (-0.59, 1.23)</text>
<text transform="translate(1178.2 2349.9) scale(1 1.07)" text-anchor="end">14.94</text>
<text transform="translate(47.8 2393.2) scale(1 1.07)">Overall, DL (I<tspan font-size="11.82" stroke-width="0" dx="0.3" dy="-11.03">2</tspan><tspan dx="0.6" dy="11.03"> = 86.0%, p &lt; 0.001)</tspan></text>
<text transform="translate(921 2393.2) scale(1 1.07)">1.63 (0.56, 2.69)</text>
<text transform="translate(1178.2 2393.2) scale(1 1.07)" text-anchor="end">100.00</text>
</g>
<g font-size="19.7" stroke="#e8f0f2" stroke-width="0.1">
<text transform="translate(405.2 2466.5) scale(1 1.07)" text-anchor="middle">-5</text>
<text transform="translate(613 2466.5) scale(1 1.07)" text-anchor="middle">0</text>
<text transform="translate(820.8 2466.5) scale(1 1.07)" text-anchor="middle">5</text>
</g>
<rect x="678.41" y="2076.31" width="12.98" height="12.98" rx="1" fill="#b3b3b3"/>
<rect x="636.66" y="2119.47" width="13.35" height="13.35" rx="1" fill="#b3b3b3"/>
<rect x="651.74" y="2162.94" width="13.12" height="13.12" rx="1" fill="#b3b3b3"/>
<rect x="653.82" y="2206.3" width="13.11" height="13.11" rx="1" fill="#b3b3b3"/>
<rect x="838.14" y="2249.85" width="12.69" height="12.69" rx="1" fill="#b3b3b3"/>
<rect x="660.07" y="2293.01" width="13.09" height="13.09" rx="1" fill="#b3b3b3"/>
<rect x="619.65" y="2336.25" width="13.29" height="13.29" rx="1" fill="#b3b3b3"/>
<g stroke="#fff" stroke-opacity="0.3" fill="none" stroke-linejoin="round" stroke-linecap="round">
<path d="M613 2052.5V2442" stroke-width="6"/>
<path d="M678.41 2082.8H691.39" stroke-width="6.2"/>
<path d="M684.9 2077.2L689.3 2082.8L684.9 2088.4L680.5 2082.8Z" stroke-width="4.6"/>
<path d="M636.66 2126.15H650.01" stroke-width="6.2"/>
<path d="M643.34 2120.55L647.74 2126.15L643.34 2131.75L638.94 2126.15Z" stroke-width="4.6"/>
<path d="M651.74 2169.5H664.86" stroke-width="6.2"/>
<path d="M658.3 2163.9L662.7 2169.5L658.3 2175.1L653.9 2169.5Z" stroke-width="4.6"/>
<path d="M653.82 2212.85H666.93" stroke-width="6.2"/>
<path d="M660.38 2207.25L664.78 2212.85L660.38 2218.45L655.98 2212.85Z" stroke-width="4.6"/>
<path d="M838.14 2256.2H850.84" stroke-width="6.2"/>
<path d="M844.49 2250.6L848.89 2256.2L844.49 2261.8L840.09 2256.2Z" stroke-width="4.6"/>
<path d="M660.07 2299.55H673.16" stroke-width="6.2"/>
<path d="M666.61 2293.95L671.01 2299.55L666.61 2305.15L662.21 2299.55Z" stroke-width="4.6"/>
<path d="M619.65 2342.9H632.94" stroke-width="6.2"/>
<path d="M626.3 2337.3L630.7 2342.9L626.3 2348.5L621.9 2342.9Z" stroke-width="4.6"/>
</g>
<line x1="613" y1="2050.5" x2="613" y2="2442" stroke="#000" stroke-width="2.4"/>
<line x1="637.57" y1="2082.8" x2="732.22" y2="2082.8" stroke="#000" stroke-width="2.6" stroke-linecap="round"/>
<line x1="609.73" y1="2126.15" x2="677.36" y2="2126.15" stroke="#000" stroke-width="2.6" stroke-linecap="round"/>
<line x1="615.55" y1="2169.5" x2="701.05" y2="2169.5" stroke="#000" stroke-width="2.6" stroke-linecap="round"/>
<line x1="617.62" y1="2212.85" x2="703.55" y2="2212.85" stroke="#000" stroke-width="2.6" stroke-linecap="round"/>
<line x1="787.61" y1="2256.2" x2="900.96" y2="2256.2" stroke="#000" stroke-width="2.6" stroke-linecap="round"/>
<line x1="622.61" y1="2299.55" x2="710.61" y2="2299.55" stroke="#000" stroke-width="2.6" stroke-linecap="round"/>
<line x1="589.78" y1="2342.9" x2="662.82" y2="2342.9" stroke="#000" stroke-width="2.6" stroke-linecap="round"/>
<line x1="680.74" y1="2066.7" x2="680.74" y2="2407.8" stroke="#8a0c1c" stroke-width="1.8" stroke-dasharray="5.2 8.19" stroke-linecap="round"/>
<path d="M684.9 2077.2L689.3 2082.8L684.9 2088.4L680.5 2082.8Z" stroke="#000" stroke-width="1.0" stroke-linejoin="round"/>
<path d="M643.34 2120.55L647.74 2126.15L643.34 2131.75L638.94 2126.15Z" stroke="#000" stroke-width="1.0" stroke-linejoin="round"/>
<path d="M658.3 2163.9L662.7 2169.5L658.3 2175.1L653.9 2169.5Z" stroke="#000" stroke-width="1.0" stroke-linejoin="round"/>
<path d="M660.38 2207.25L664.78 2212.85L660.38 2218.45L655.98 2212.85Z" stroke="#000" stroke-width="1.0" stroke-linejoin="round"/>
<path d="M844.49 2250.6L848.89 2256.2L844.49 2261.8L840.09 2256.2Z" stroke="#000" stroke-width="1.0" stroke-linejoin="round"/>
<path d="M666.61 2293.95L671.01 2299.55L666.61 2305.15L662.21 2299.55Z" stroke="#000" stroke-width="1.0" stroke-linejoin="round"/>
<path d="M626.3 2337.3L630.7 2342.9L626.3 2348.5L621.9 2342.9Z" stroke="#000" stroke-width="1.0" stroke-linejoin="round"/>
<path d="M636.27 2386.25L680.74 2369.55L724.8 2386.25L680.74 2402.95Z" fill="none" stroke="#0d0d63" stroke-width="3.0" stroke-linejoin="round"/>
<line x1="41.6" y1="2429.1" x2="1196.8" y2="2429.1" stroke="#000" stroke-width="2.4" stroke-linecap="round"/>
<line x1="405.2" y1="2429.1" x2="405.2" y2="2442" stroke="#000" stroke-width="2.4" stroke-linecap="round"/>
<line x1="613" y1="2429.1" x2="613" y2="2442" stroke="#000" stroke-width="2.4" stroke-linecap="round"/>
<line x1="820.8" y1="2429.1" x2="820.8" y2="2442" stroke="#000" stroke-width="2.4" stroke-linecap="round"/>
<g font-size="30" font-weight="bold">
<text transform="translate(6.5 44) scale(1 1.07)">A</text>
<text transform="translate(5.2 1087.7) scale(1 1.07)">B</text>
<text transform="translate(5.2 1897.8) scale(1 1.07)">C</text>
</g>
<g font-size="14.5"><text transform="translate(46.5 2494.8) scale(1 1.07)">NOTE: Weights are from random-effects model</text></g>
</svg>
</body></html>
